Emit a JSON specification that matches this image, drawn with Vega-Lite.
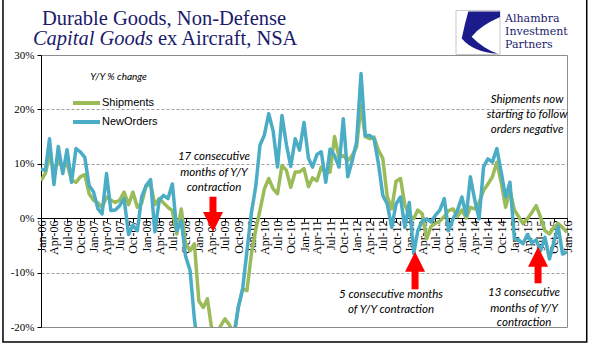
{
  "$schema": "https://vega.github.io/schema/vega-lite/v6.json",
  "width": 526,
  "height": 272,
  "autosize": {"type": "none"},
  "padding": {"left": 41, "top": 55, "right": 29, "bottom": 31},
  "background": "white",
  "config": {"view": {"stroke": "#8c8c8c", "strokeWidth": 1}},
  "datasets": {
    "series": [
      {"date":"2006-01-01","Shipments":6.9,"NewOrders":9.0},
      {"date":"2006-02-01","Shipments":8.3,"NewOrders":8.8},
      {"date":"2006-03-01","Shipments":11.5,"NewOrders":14.6},
      {"date":"2006-04-01","Shipments":8.8,"NewOrders":6.2},
      {"date":"2006-05-01","Shipments":10.3,"NewOrders":13.2},
      {"date":"2006-06-01","Shipments":9.4,"NewOrders":8.2},
      {"date":"2006-07-01","Shipments":10.0,"NewOrders":12.6},
      {"date":"2006-08-01","Shipments":7.0,"NewOrders":6.6},
      {"date":"2006-09-01","Shipments":6.6,"NewOrders":12.8},
      {"date":"2006-10-01","Shipments":7.6,"NewOrders":12.2},
      {"date":"2006-11-01","Shipments":8.0,"NewOrders":11.2},
      {"date":"2006-12-01","Shipments":4.5,"NewOrders":6.0},
      {"date":"2007-01-01","Shipments":3.3,"NewOrders":4.8},
      {"date":"2007-02-01","Shipments":2.8,"NewOrders":1.7},
      {"date":"2007-03-01","Shipments":2.0,"NewOrders":0.8},
      {"date":"2007-04-01","Shipments":3.9,"NewOrders":8.2},
      {"date":"2007-05-01","Shipments":3.3,"NewOrders":1.4},
      {"date":"2007-06-01","Shipments":2.9,"NewOrders":1.5},
      {"date":"2007-07-01","Shipments":3.3,"NewOrders":2.3},
      {"date":"2007-08-01","Shipments":4.8,"NewOrders":3.6},
      {"date":"2007-09-01","Shipments":2.5,"NewOrders":-3.0},
      {"date":"2007-10-01","Shipments":4.8,"NewOrders":-1.3},
      {"date":"2007-11-01","Shipments":2.0,"NewOrders":-2.3},
      {"date":"2007-12-01","Shipments":2.8,"NewOrders":3.9},
      {"date":"2008-01-01","Shipments":6.0,"NewOrders":6.0},
      {"date":"2008-02-01","Shipments":6.3,"NewOrders":7.1},
      {"date":"2008-03-01","Shipments":2.5,"NewOrders":-2.5},
      {"date":"2008-04-01","Shipments":3.6,"NewOrders":3.3},
      {"date":"2008-05-01","Shipments":2.8,"NewOrders":4.2},
      {"date":"2008-06-01","Shipments":2.0,"NewOrders":3.6},
      {"date":"2008-07-01","Shipments":1.4,"NewOrders":6.3},
      {"date":"2008-08-01","Shipments":-2.9,"NewOrders":-2.3},
      {"date":"2008-09-01","Shipments":1.7,"NewOrders":-0.5},
      {"date":"2008-10-01","Shipments":-4.7,"NewOrders":-7.0},
      {"date":"2008-11-01","Shipments":-6.0,"NewOrders":-9.6},
      {"date":"2008-12-01","Shipments":-4.7,"NewOrders":-18.5},
      {"date":"2009-01-01","Shipments":-15.2,"NewOrders":-25},
      {"date":"2009-02-01","Shipments":-16.4,"NewOrders":-28},
      {"date":"2009-03-01","Shipments":-14.8,"NewOrders":-30},
      {"date":"2009-04-01","Shipments":-20.5,"NewOrders":-32},
      {"date":"2009-05-01","Shipments":-21.5,"NewOrders":-33},
      {"date":"2009-06-01","Shipments":-19.8,"NewOrders":-31},
      {"date":"2009-07-01","Shipments":-18.5,"NewOrders":-29},
      {"date":"2009-08-01","Shipments":-19.6,"NewOrders":-27},
      {"date":"2009-09-01","Shipments":-21.5,"NewOrders":-22},
      {"date":"2009-10-01","Shipments":-16.5,"NewOrders":-16.5},
      {"date":"2009-11-01","Shipments":-13.0,"NewOrders":-13.0},
      {"date":"2009-12-01","Shipments":-13.3,"NewOrders":-6.0},
      {"date":"2010-01-01","Shipments":-6.5,"NewOrders":1.0},
      {"date":"2010-02-01","Shipments":-2.0,"NewOrders":6.0},
      {"date":"2010-03-01","Shipments":1.4,"NewOrders":13.4},
      {"date":"2010-04-01","Shipments":5.4,"NewOrders":15.3},
      {"date":"2010-05-01","Shipments":7.3,"NewOrders":19.2},
      {"date":"2010-06-01","Shipments":5.4,"NewOrders":16.0},
      {"date":"2010-07-01","Shipments":4.5,"NewOrders":9.4},
      {"date":"2010-08-01","Shipments":9.7,"NewOrders":18.9},
      {"date":"2010-09-01","Shipments":8.8,"NewOrders":13.5},
      {"date":"2010-10-01","Shipments":5.7,"NewOrders":9.5},
      {"date":"2010-11-01","Shipments":8.5,"NewOrders":14.6},
      {"date":"2010-12-01","Shipments":8.5,"NewOrders":12.5},
      {"date":"2011-01-01","Shipments":9.1,"NewOrders":17.6},
      {"date":"2011-02-01","Shipments":5.8,"NewOrders":11.0},
      {"date":"2011-03-01","Shipments":7.4,"NewOrders":9.4},
      {"date":"2011-04-01","Shipments":6.9,"NewOrders":11.7},
      {"date":"2011-05-01","Shipments":9.4,"NewOrders":12.2},
      {"date":"2011-06-01","Shipments":8.3,"NewOrders":6.6},
      {"date":"2011-07-01","Shipments":8.5,"NewOrders":12.7},
      {"date":"2011-08-01","Shipments":15.0,"NewOrders":11.5},
      {"date":"2011-09-01","Shipments":11.2,"NewOrders":9.4},
      {"date":"2011-10-01","Shipments":11.5,"NewOrders":18.3},
      {"date":"2011-11-01","Shipments":10.6,"NewOrders":7.6},
      {"date":"2011-12-01","Shipments":11.5,"NewOrders":10.5},
      {"date":"2012-01-01","Shipments":13.1,"NewOrders":14.0},
      {"date":"2012-02-01","Shipments":20.8,"NewOrders":26.6},
      {"date":"2012-03-01","Shipments":15.0,"NewOrders":15.2},
      {"date":"2012-04-01","Shipments":14.6,"NewOrders":15.2},
      {"date":"2012-05-01","Shipments":14.9,"NewOrders":14.6},
      {"date":"2012-06-01","Shipments":12.5,"NewOrders":10.0},
      {"date":"2012-07-01","Shipments":11.0,"NewOrders":4.2},
      {"date":"2012-08-01","Shipments":4.0,"NewOrders":2.6},
      {"date":"2012-09-01","Shipments":1.7,"NewOrders":-1.7},
      {"date":"2012-10-01","Shipments":6.8,"NewOrders":2.6},
      {"date":"2012-11-01","Shipments":7.3,"NewOrders":3.9},
      {"date":"2012-12-01","Shipments":2.5,"NewOrders":-1.7},
      {"date":"2013-01-01","Shipments":0.5,"NewOrders":2.9},
      {"date":"2013-02-01","Shipments":-0.1,"NewOrders":-6.5},
      {"date":"2013-03-01","Shipments":1.5,"NewOrders":-2.3},
      {"date":"2013-04-01","Shipments":0.8,"NewOrders":-0.5},
      {"date":"2013-05-01","Shipments":-3.8,"NewOrders":-0.1},
      {"date":"2013-06-01","Shipments":-1.5,"NewOrders":-0.7},
      {"date":"2013-07-01","Shipments":-1.0,"NewOrders":0.5},
      {"date":"2013-08-01","Shipments":-0.5,"NewOrders":1.5},
      {"date":"2013-09-01","Shipments":0.3,"NewOrders":3.6},
      {"date":"2013-10-01","Shipments":1.4,"NewOrders":-2.3},
      {"date":"2013-11-01","Shipments":1.7,"NewOrders":-0.1},
      {"date":"2013-12-01","Shipments":0.3,"NewOrders":1.4},
      {"date":"2014-01-01","Shipments":1.5,"NewOrders":3.9},
      {"date":"2014-02-01","Shipments":0.0,"NewOrders":0.5},
      {"date":"2014-03-01","Shipments":2.0,"NewOrders":7.6},
      {"date":"2014-04-01","Shipments":1.7,"NewOrders":3.3},
      {"date":"2014-05-01","Shipments":2.9,"NewOrders":-0.1},
      {"date":"2014-06-01","Shipments":5.1,"NewOrders":9.5},
      {"date":"2014-07-01","Shipments":6.3,"NewOrders":10.9},
      {"date":"2014-08-01","Shipments":7.6,"NewOrders":10.3},
      {"date":"2014-09-01","Shipments":10.3,"NewOrders":12.8},
      {"date":"2014-10-01","Shipments":6.6,"NewOrders":8.5},
      {"date":"2014-11-01","Shipments":2.0,"NewOrders":3.9},
      {"date":"2014-12-01","Shipments":5.1,"NewOrders":6.6},
      {"date":"2015-01-01","Shipments":1.5,"NewOrders":-3.8},
      {"date":"2015-02-01","Shipments":0.2,"NewOrders":-4.0},
      {"date":"2015-03-01","Shipments":-1.0,"NewOrders":-4.7},
      {"date":"2015-04-01","Shipments":-0.1,"NewOrders":-3.0},
      {"date":"2015-05-01","Shipments":1.0,"NewOrders":-4.5},
      {"date":"2015-06-01","Shipments":2.3,"NewOrders":-4.0},
      {"date":"2015-07-01","Shipments":0.2,"NewOrders":-6.0},
      {"date":"2015-08-01","Shipments":-2.3,"NewOrders":-3.5},
      {"date":"2015-09-01","Shipments":-2.9,"NewOrders":-7.5},
      {"date":"2015-10-01","Shipments":-1.7,"NewOrders":-4.5},
      {"date":"2015-11-01","Shipments":-1.0,"NewOrders":-1.5},
      {"date":"2015-12-01","Shipments":-1.7,"NewOrders":-6.6},
      {"date":"2016-01-01","Shipments":-2.6,"NewOrders":-6.2}
    ],
    "ann": [
      {"date":"2009-04-16","value":11.25,"label":"17 consecutive"},
      {"date":"2009-04-16","value":8.4,"label":"months of Y/Y"},
      {"date":"2009-04-16","value":5.64,"label":"contraction"},
      {"date":"2012-08-27","value":-14.1,"label":"5 consecutive months"},
      {"date":"2012-08-27","value":-16.9,"label":"of Y/Y contraction"},
      {"date":"2015-03-09","value":-13.8,"label":"13 consecutive"},
      {"date":"2015-03-09","value":-16.6,"label":"months of Y/Y"},
      {"date":"2015-03-09","value":-19.3,"label":"contraction"},
      {"date":"2015-03-30","value":21.7,"label":"Shipments now"},
      {"date":"2015-03-30","value":19.0,"label":"starting to follow"},
      {"date":"2015-03-30","value":16.2,"label":"orders negative"}
    ],
    "arrows": [
      {"date":"2009-04-09","value":3.95,"value2":0.5,"head":-0.7,"dir":"down"},
      {"date":"2013-02-10","value":-9.3,"value2":-13.07,"head":-8.0,"dir":"up"},
      {"date":"2015-06-14","value":-8.4,"value2":-11.97,"head":-7.08,"dir":"up"}
    ]
  },
  "encoding": {
    "x": {
      "field": "date", "type": "temporal",
      "scale": {"type": "utc", "nice": false,
        "domain": [{"year": 2006, "month": 1, "date": 1, "utc": true}, {"year": 2016, "month": 1, "date": 1, "utc": true}]},
      "axis": {"title": null, "format": "%b-%y", "tickCount": {"interval": "month", "step": 3},
        "labelAngle": -90, "labelFont": "Liberation Serif", "labelFontSize": 12, "labelColor": "#000",
        "labelPadding": -2, "labelOverlap": false, "labelFlush": false, "labelBound": false,
        "grid": false, "domainColor": "#000", "tickColor": "#000", "tickSize": 4, "offset": -109}
    },
    "y": {
      "field": "value", "type": "quantitative",
      "scale": {"domain": [-20, 30], "nice": false, "zero": false},
      "axis": {"title": null, "values": [-20, -10, 0, 10, 20, 30], "labelExpr": "datum.value + '%'",
        "labelFont": "Liberation Serif", "labelFontSize": 11, "labelColor": "#000", "labelPadding": 3,
        "domainColor": "#000", "tickColor": "#000", "tickSize": 4,
        "grid": true, "gridColor": "#a0a0a0", "gridDash": [3, 2],
        "gridOpacity": {"condition": {"test": "datum.value == 30 || datum.value == -20 || datum.value == 0", "value": 0}, "value": 1}}
    }
  },
  "layer": [
    {
      "data": {"values": [{"date": "2005-04-12", "date2": "2016-05-17", "value": 40.7, "value2": -22.76}]},
      "mark": {"type": "rect", "fillOpacity": 0, "stroke": "#000", "strokeWidth": 1.5, "clip": false},
      "encoding": {"x2": {"field": "date2"}, "y2": {"field": "value2"}}
    },
    {
      "data": {"name": "series"},
      "transform": [{"fold": ["Shipments", "NewOrders"], "as": ["series", "value"]}],
      "mark": {"type": "line", "strokeWidth": 3.5, "strokeJoin": "round", "clip": true},
      "encoding": {
        "color": {"field": "series", "type": "nominal",
          "scale": {"domain": ["Shipments", "NewOrders"], "range": ["#9BBB59", "#4BACC6"]},
          "legend": {"title": "Y/Y % change", "orient": "none", "legendX": 38.5, "legendY": 17,
            "symbolType": "M-2.7,0H2.7", "symbolSize": 100, "symbolStrokeWidth": 4,
            "labelFont": "Liberation Sans", "labelFontSize": 11, "labelColor": "#000", "labelOffset": 8.5,
            "titleFont": "Lato", "titleFontStyle": "italic", "titleFontWeight": "normal", "titleFontSize": 10,
            "titleColor": "#000", "titleAnchor": "middle", "titlePadding": 14, "rowPadding": 3}
        }
      }
    },
    {
      "data": {"name": "arrows"},
      "mark": {"type": "rule", "color": "#ff0000", "strokeWidth": 7, "strokeCap": "butt"},
      "encoding": {"y2": {"field": "value2"}}
    },
    {
      "data": {"name": "arrows"},
      "mark": {"type": "point", "filled": true, "color": "#ff0000", "opacity": 1, "size": 400},
      "encoding": {
        "y": {"field": "head", "type": "quantitative"},
        "shape": {"field": "dir", "type": "nominal", "legend": null,
          "scale": {"domain": ["down", "up"], "range": ["M-1,-1L1,-1L0,1Z", "M-1,1L1,1L0,-1Z"]}}
      }
    },
    {
      "data": {"name": "ann"},
      "mark": {"type": "text", "font": "Lato", "fontStyle": "italic", "fontSize": 11.5, "color": "#000", "align": "center", "baseline": "middle"},
      "encoding": {"text": {"field": "label"}}
    },
    {
      "data": {"values": [{"date": "2008-05-04", "value": 35.5, "label": "Durable Goods, Non-Defense"}]},
      "mark": {"type": "text", "font": "Liberation Serif", "fontSize": 20.5, "color": "#1b1b6b", "align": "center", "baseline": "alphabetic"},
      "encoding": {"text": {"field": "label"}}
    },
    {
      "data": {"values": [{"date": "2008-02-18", "value": 31.84, "label": "Capital Goods"}]},
      "mark": {"type": "text", "font": "Liberation Serif", "fontStyle": "italic", "fontSize": 20.5, "color": "#1b1b6b", "align": "right", "baseline": "alphabetic"},
      "encoding": {"text": {"field": "label"}}
    },
    {
      "data": {"values": [{"date": "2008-03-23", "value": 31.84, "label": "ex Aircraft, NSA"}]},
      "mark": {"type": "text", "font": "Liberation Serif", "fontSize": 20.5, "color": "#1b1b6b", "align": "left", "baseline": "alphabetic"},
      "encoding": {"text": {"field": "label"}}
    },
    {
      "data": {"values": [
        {"date": "2014-10-28", "value": 36.07, "label": "Alhambra"},
        {"date": "2014-10-28", "value": 33.68, "label": "Investment"},
        {"date": "2014-10-28", "value": 31.29, "label": "Partners"}]},
      "mark": {"type": "text", "font": "DejaVu Serif", "fontSize": 11, "color": "#1b1b6b", "align": "left", "baseline": "alphabetic"},
      "encoding": {"text": {"field": "label"}}
    },
    {
      "data": {"values": [{"date": "2014-04-23", "value": 34.14}]},
      "mark": {"type": "point", "shape": "square", "filled": false, "stroke": "#c8c8c8", "strokeWidth": 1, "opacity": 1, "size": 1936}
    },
    {
      "data": {"values": [{"date": "2014-04-23", "value": 34.14}]},
      "mark": {"type": "point", "shape": "M-0.44,-0.95L1,-0.95L1,-0.7Q0.1,-0.3 -0.29,0.19Q0.2,0.7 0.9,0.97Q-0.2,0.9 -0.74,0.27Q-0.6,-0.4 -0.44,-0.95Z", "filled": true, "color": "#1b1b8b", "opacity": 1, "size": 1936}
    }
  ]
}
